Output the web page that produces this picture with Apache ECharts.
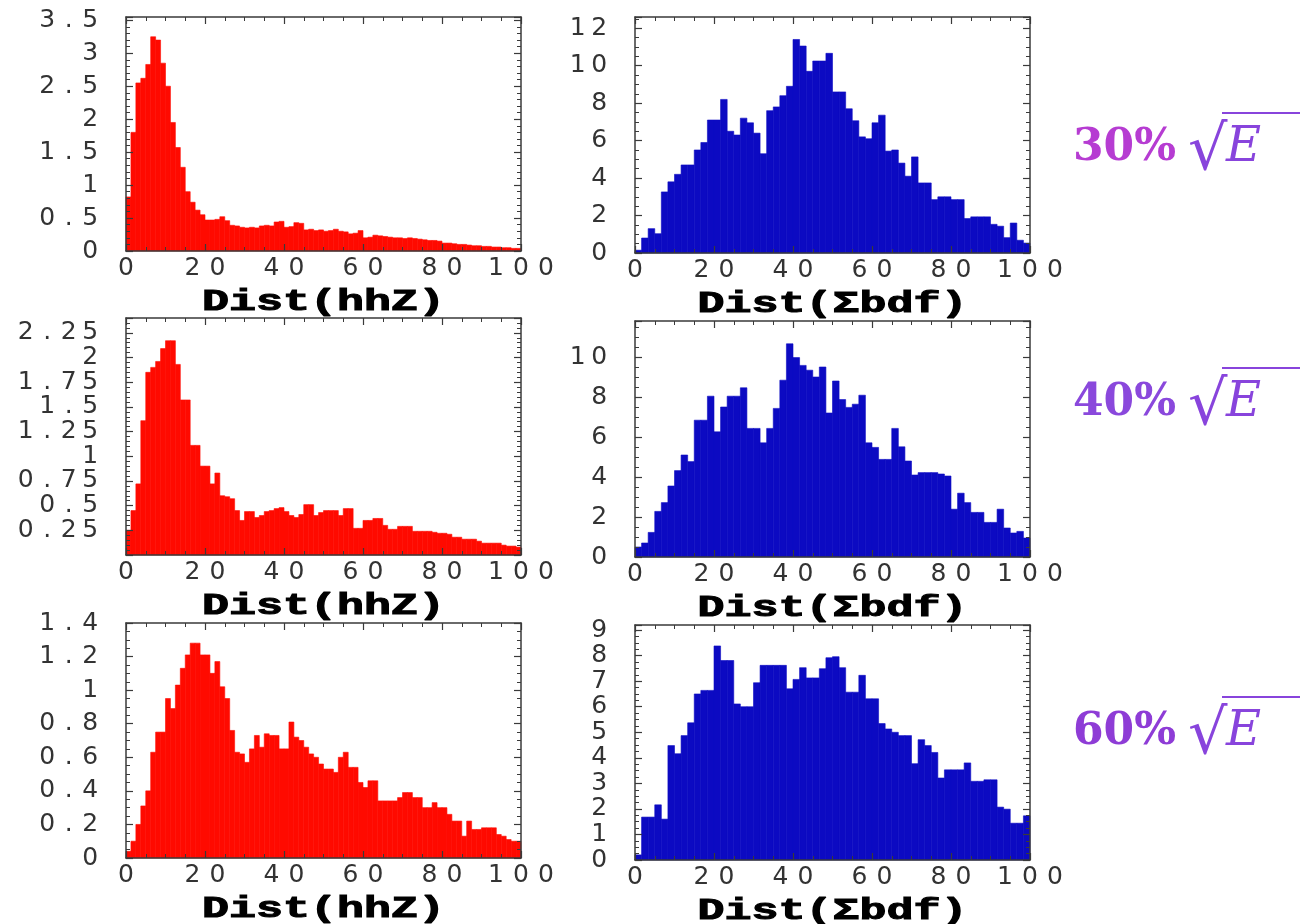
<!DOCTYPE html>
<html>
<head>
<meta charset="utf-8">
<title>Dist(hhZ) / Dist(Σbdf)</title>
<script src="https://cdn.jsdelivr.net/npm/echarts@6/dist/echarts.min.js"></script>
<style>
    html, body { margin: 0; padding: 0; background: #fff; }
    #chart { width: 1300px; height: 924px; }
</style>
</head>
<body>
<div id="chart"></div>
<script>
// energy resolution of each row (x sqrt(E))
var resolutions = ['30%', '40%', '60%'];

// Dist(hhZ), 80 bins between 0 and 100
var hhz30 = [0.82, 1.80, 2.55, 2.62, 2.83, 3.25, 3.20, 2.85, 2.50, 1.95,
    1.57, 1.27, 0.90, 0.74, 0.62, 0.55, 0.47, 0.47, 0.48, 0.52,
    0.46, 0.39, 0.38, 0.36, 0.35, 0.36, 0.35, 0.38, 0.39, 0.38,
    0.44, 0.45, 0.36, 0.37, 0.43, 0.42, 0.32, 0.33, 0.31, 0.32,
    0.30, 0.31, 0.33, 0.30, 0.29, 0.26, 0.27, 0.31, 0.20, 0.21,
    0.24, 0.23, 0.22, 0.21, 0.20, 0.20, 0.19, 0.20, 0.19, 0.18,
    0.17, 0.16, 0.16, 0.15, 0.12, 0.12, 0.11, 0.10, 0.10, 0.09,
    0.08, 0.08, 0.07, 0.07, 0.06, 0.06, 0.05, 0.05, 0.04, 0.04];
var hhz40 = [0.25, 0.45, 0.72, 1.36, 1.85, 1.90, 1.96, 2.09, 2.17, 2.17,
    1.93, 1.57, 1.57, 1.11, 1.11, 0.90, 0.90, 0.72, 0.83, 0.60,
    0.59, 0.57, 0.45, 0.35, 0.44, 0.44, 0.38, 0.40, 0.44, 0.45,
    0.47, 0.48, 0.44, 0.40, 0.38, 0.41, 0.51, 0.51, 0.40, 0.43,
    0.45, 0.45, 0.45, 0.40, 0.47, 0.47, 0.27, 0.27, 0.35, 0.35,
    0.37, 0.37, 0.30, 0.26, 0.26, 0.29, 0.29, 0.29, 0.24, 0.24,
    0.24, 0.24, 0.23, 0.22, 0.22, 0.21, 0.18, 0.18, 0.16, 0.16,
    0.16, 0.14, 0.12, 0.12, 0.12, 0.12, 0.10, 0.09, 0.09, 0.08];
var hhz60 = [0.04, 0.10, 0.20, 0.31, 0.40, 0.63, 0.75, 0.75, 0.95, 0.89,
    1.03, 1.13, 1.21, 1.28, 1.28, 1.21, 1.21, 1.10, 1.17, 1.02,
    0.95, 0.76, 0.63, 0.62, 0.57, 0.65, 0.73, 0.66, 0.74, 0.73,
    0.73, 0.65, 0.65, 0.81, 0.72, 0.70, 0.66, 0.62, 0.60, 0.56,
    0.53, 0.53, 0.51, 0.60, 0.63, 0.54, 0.54, 0.45, 0.42, 0.46,
    0.46, 0.34, 0.34, 0.34, 0.34, 0.36, 0.39, 0.39, 0.36, 0.36,
    0.30, 0.30, 0.33, 0.30, 0.30, 0.26, 0.22, 0.22, 0.13, 0.22,
    0.17, 0.17, 0.18, 0.18, 0.18, 0.14, 0.13, 0.11, 0.10, 0.10];

// Dist(Σbdf), 60 bins between 0 and 100
var bdf30 = [0.15, 0.80, 1.30, 1.03, 3.26, 3.80, 4.20, 4.70, 4.70, 5.50,
    5.90, 7.10, 7.10, 8.20, 6.50, 6.30, 7.20, 6.95, 6.40, 5.30,
    7.60, 7.80, 8.40, 8.90, 11.40, 11.05, 9.70, 10.25, 10.25, 10.66,
    8.60, 8.60, 7.70, 7.06, 6.20, 6.10, 6.95, 7.36, 5.44, 5.50,
    4.80, 4.10, 5.13, 3.74, 3.74, 2.85, 3.00, 3.00, 2.85, 2.85,
    1.84, 1.93, 1.93, 1.93, 1.53, 1.43, 0.82, 1.60, 0.68, 0.53];
var bdf40 = [0.50, 0.70, 1.23, 2.28, 2.72, 3.55, 4.32, 5.10, 4.77, 6.84,
    6.84, 8.04, 6.26, 7.50, 8.04, 8.04, 8.46, 6.43, 6.43, 5.71,
    6.43, 7.43, 8.84, 10.66, 9.97, 9.58, 9.34, 9.00, 9.50, 7.20,
    8.80, 7.87, 7.48, 7.64, 8.09, 5.71, 5.48, 4.88, 4.88, 6.43,
    5.51, 4.80, 4.10, 4.22, 4.22, 4.22, 4.15, 4.05, 2.39, 3.19,
    2.72, 2.23, 2.23, 1.73, 1.73, 2.39, 1.45, 1.20, 1.28, 0.95];
var bdf60 = [0.20, 1.68, 1.68, 2.16, 1.60, 4.48, 4.16, 4.87, 5.37, 6.50,
    6.64, 6.64, 8.38, 7.81, 7.81, 6.11, 6.00, 6.00, 6.94, 7.62,
    7.62, 7.62, 7.62, 6.70, 7.07, 7.53, 7.13, 7.13, 7.49, 7.92,
    7.96, 7.53, 6.57, 6.57, 7.23, 6.31, 6.31, 5.34, 5.13, 5.00,
    4.87, 4.87, 3.77, 4.71, 4.48, 4.21, 3.21, 3.53, 3.53, 3.53,
    3.80, 3.08, 3.08, 3.14, 3.14, 2.07, 1.99, 1.44, 1.44, 1.73];

// axes
var xMin = 0, xMax = 100, xStep = 20;
var hhzMax = [3.55, 2.4, 1.4], hhzStep = [0.5, 0.25, 0.2];
var bdfMax = [12.6, 11.8, 9.2], bdfStep = [2, 2, 1];

// layout
var RED = '#ff0a00', BLUE = '#0c0ac2', FRAME = '#3a3a3a';
var colLeft = [126, 635], plotW = 395;
var plotTop = [[17, 318, 623], [17, 321, 625]];
var plotH = [[234, 237, 235], [236, 236, 235]];
var rowMid = [149, 404, 733];
var resColor = ['#b63cd2', '#8a48dc', '#8e3cd6'], sqrtColor = '#8844dc';

var chart = echarts.init(document.getElementById('chart'));

function onStep(v, step) {
    var q = v / step;
    return Math.abs(q - Math.round(q)) < 1e-6;
}
function numText(v) {
    return String(Math.round(v * 100) / 100);
}
// every character in its own fixed-width box (the plot's spaced-out lettering)
function slots(str, key) {
    return str.split('').map(function (c) { return '{' + key + '|' + c + '}'; }).join('');
}

var tickFont = { fontFamily: 'DejaVu Sans', fontSize: 25, color: '#333', align: 'center' };

var panels = [];
for (let r = 0; r < 3; r++) {
    panels.push({ row: r, col: 0, data: [hhz30, hhz40, hhz60][r], yMax: hhzMax[r], yStep: hhzStep[r],
        minor: r == 2 ? 4 : 5, color: RED, name: 'Dist(hhZ)' });
    panels.push({ row: r, col: 1, data: [bdf30, bdf40, bdf60][r], yMax: bdfMax[r], yStep: bdfStep[r],
        minor: 4, color: BLUE, name: 'Dist(Σbdf)' });
}

var grids = [], xAxes = [], yAxes = [], series = [], graphics = [];
panels.forEach(function (p, i) {
    let line = { show: true, onZero: false, lineStyle: { color: FRAME, width: 1.5 } };
    let tick = { show: true, inside: true, length: 7, lineStyle: { color: FRAME, width: 1.2 } };
    let top = plotTop[p.col][p.row], h = plotH[p.col][p.row];
    grids.push({
        left: colLeft[p.col], top: top, width: plotW, height: h,
        containLabel: false, outerBoundsMode: 'none'
    });
    let xBase = { gridIndex: i, type: 'value', min: xMin, max: xMax, interval: xStep, z: 10,
        axisLine: line, axisTick: tick, splitLine: { show: false },
        minorTick: { show: true, splitNumber: 4, length: 4, lineStyle: { color: FRAME } } };
    xAxes.push(Object.assign({}, xBase, {
        position: 'bottom',
        axisLabel: {
            margin: 5,
            formatter: function (v) { return onStep(v, xStep) ? slots(numText(v), 'x') : ''; },
            rich: { x: Object.assign({ width: 25 }, tickFont) }
        }
    }));
    xAxes.push(Object.assign({}, xBase, { position: 'top', axisLabel: { show: false } }));

    let yBase = { gridIndex: i, type: 'value', min: 0, max: p.yMax, interval: p.yStep, z: 10,
        axisLine: line, axisTick: tick, splitLine: { show: false },
        minorTick: { show: true, splitNumber: p.minor, length: 4, lineStyle: { color: FRAME } } };
    yAxes.push(Object.assign({}, yBase, {
        position: 'left',
        axisLabel: {
            margin: 25,
            formatter: function (v) { return onStep(v, p.yStep) ? slots(numText(v), 'y') : ''; },
            rich: { y: Object.assign({ width: 21.5 }, tickFont) }
        }
    }));
    yAxes.push(Object.assign({}, yBase, { position: 'right', axisLabel: { show: false } }));

    let w = (xMax - xMin) / p.data.length;
    series.push({
        type: 'custom',
        xAxisIndex: 2 * i,
        yAxisIndex: 2 * i,
        encode: { x: [0, 1], y: 2 },
        data: p.data.map(function (v, k) { return [xMin + k * w, xMin + (k + 1) * w, v]; }),
        renderItem: function (params, api) {
            let a = api.coord([api.value(0), 0]);
            let b = api.coord([api.value(1), api.value(2)]);
            return {
                type: 'rect',
                shape: { x: a[0], y: b[1], width: b[0] - a[0], height: a[1] - b[1] },
                style: { fill: p.color, stroke: p.color, lineWidth: 0.6 }
            };
        },
        silent: true
    });

    // axis title, a wide heavy typewriter face
    graphics.push({
        type: 'text', x: colLeft[p.col] + plotW / 2, y: top + h + 51, scaleX: 1.5, z: 100,
        style: { text: p.name, font: 'bold 30px "Liberation Mono"', fill: '#000', stroke: '#000', lineWidth: 1,
                 align: 'center', verticalAlign: 'middle' }
    });
});

// 30% sqrt(E) style labels on the right
resolutions.forEach(function (t, r) {
    let c = rowMid[r];
    graphics.push(
        { type: 'text', x: 1073, y: c, z: 100,
          style: { text: t, font: 'bold 44px "DejaVu Serif"', fill: resColor[r], verticalAlign: 'middle' } },
        { type: 'text', x: 1188, y: c + 4, z: 100,
          style: { text: '√', font: '62px "DejaVu Serif"', fill: sqrtColor, verticalAlign: 'middle' } },
        { type: 'line', z: 100, shape: { x1: 1222, y1: c - 36, x2: 1300, y2: c - 36 },
          style: { stroke: sqrtColor, lineWidth: 2 } },
        { type: 'text', x: 1226, y: c, z: 100,
          style: { text: 'E', font: 'italic 48px "DejaVu Serif"', fill: sqrtColor, verticalAlign: 'middle' } }
    );
});

chart.setOption({
    backgroundColor: '#fff',
    animation: false,
    grid: grids,
    xAxis: xAxes,
    yAxis: yAxes,
    series: series,
    graphic: graphics
});
</script>
</body>
</html>
